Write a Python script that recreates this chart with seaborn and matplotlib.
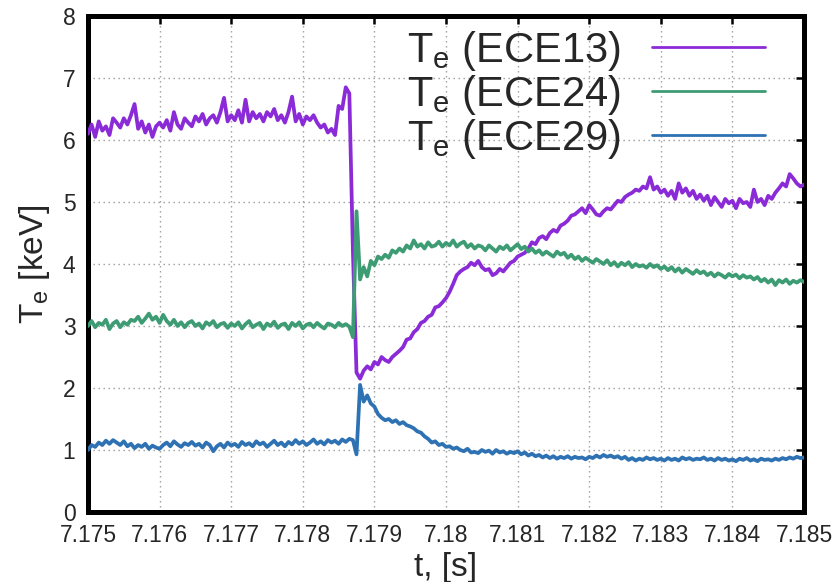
import numpy as np
import pandas as pd
import matplotlib
matplotlib.use("Agg")
import matplotlib.pyplot as plt
from matplotlib.lines import Line2D
import seaborn as sns

# ECE electron temperature traces, sampled every 50 us from 7.175 s to 7.185 s
t_start, t_end = 7.175, 7.185

te_ece13 = [
    6.10, 6.25, 6.05, 6.30, 6.15, 6.22, 6.08, 6.35, 6.28, 6.20,
    6.35, 6.25, 6.40, 6.58, 6.18, 6.30, 6.12, 6.25, 6.05, 6.22,
    6.28, 6.20, 6.32, 6.15, 6.45, 6.25, 6.18, 6.35, 6.28, 6.22,
    6.38, 6.30, 6.42, 6.25, 6.35, 6.40, 6.28, 6.45, 6.68, 6.30,
    6.40, 6.32, 6.48, 6.28, 6.65, 6.30, 6.45, 6.35, 6.42, 6.30,
    6.45, 6.38, 6.50, 6.32, 6.40, 6.28, 6.45, 6.70, 6.30, 6.42,
    6.25, 6.38, 6.32, 6.40, 6.28, 6.20, 6.25, 6.12, 6.18, 6.08,
    6.55, 6.50, 6.85, 6.75, 4.20, 2.25, 2.15, 2.28, 2.35, 2.30,
    2.42, 2.38, 2.50, 2.45, 2.42, 2.50, 2.55, 2.60, 2.66, 2.78,
    2.80, 2.90, 2.95, 3.05, 3.08, 3.15, 3.18, 3.30, 3.32, 3.38,
    3.45, 3.55, 3.68, 3.82, 3.88, 3.92, 3.95, 4.02, 3.98, 4.05,
    3.95, 3.90, 3.92, 3.82, 3.85, 3.92, 3.88, 3.95, 4.02, 4.05,
    4.12, 4.15, 4.18, 4.25, 4.35, 4.32, 4.42, 4.45, 4.40, 4.50,
    4.55, 4.52, 4.62, 4.65, 4.70, 4.78, 4.80, 4.85, 4.90, 4.82,
    4.95, 4.88, 4.80, 4.78, 4.85, 4.90, 4.88, 4.95, 5.02, 5.00,
    5.08, 5.12, 5.15, 5.20, 5.18, 5.25, 5.22, 5.40, 5.20, 5.25,
    5.15, 5.20, 5.10, 5.18, 5.05, 5.30, 5.15, 5.22, 5.10, 5.18,
    5.05, 5.12, 5.02, 5.10, 4.95, 5.08, 5.00, 4.92, 5.05, 4.98,
    5.02, 4.90, 5.05, 4.98, 5.00, 4.92, 5.20, 5.00, 5.05, 4.95,
    5.10, 5.05, 5.15, 5.22, 5.30, 5.25, 5.45, 5.38, 5.30, 5.25,
    5.28,
]

te_ece24 = [
    3.00, 3.08, 2.98, 3.05, 3.02, 3.10, 2.95, 3.04, 3.08, 2.98,
    3.06, 3.02, 3.10, 3.08, 3.15, 3.05, 3.12, 3.20, 3.10, 3.15,
    3.05, 3.18, 3.08, 3.02, 3.10, 3.00, 3.06, 2.98, 3.05, 3.08,
    3.00, 3.04, 2.96, 3.06, 3.02, 3.08, 2.98, 3.03, 3.05, 2.97,
    3.04, 3.00, 3.06, 2.96, 3.03, 3.08, 2.98, 3.02, 3.05, 2.95,
    3.04, 3.00, 3.07, 2.97, 3.02, 3.04, 2.95, 3.05, 3.00, 3.06,
    2.96, 3.02, 3.04, 2.98, 3.05, 3.00, 2.96, 3.04, 3.02, 2.98,
    3.05, 3.00, 3.03, 2.99, 2.82, 4.85, 3.75, 3.95, 3.80, 4.05,
    3.98, 4.12, 4.08, 4.15, 4.10, 4.22, 4.18, 4.25, 4.20, 4.30,
    4.25, 4.38, 4.28, 4.32, 4.25, 4.35, 4.28, 4.30, 4.36, 4.28,
    4.34, 4.30, 4.38, 4.28, 4.33, 4.36, 4.27, 4.32, 4.25, 4.30,
    4.28, 4.22, 4.30, 4.25, 4.20, 4.28, 4.24, 4.30, 4.22, 4.27,
    4.32, 4.24, 4.28, 4.20, 4.25, 4.18, 4.22, 4.15, 4.20, 4.16,
    4.12, 4.20, 4.15, 4.18, 4.10, 4.15, 4.08, 4.12, 4.05, 4.10,
    4.06, 4.02, 4.08, 4.04, 4.00, 4.06, 3.98, 4.03, 3.96, 4.02,
    3.98, 4.03, 3.95, 4.00, 3.96, 3.98, 3.94, 4.00, 3.95, 3.98,
    3.92, 3.96, 3.90, 3.95, 3.88, 3.93, 3.86, 3.92, 3.88, 3.84,
    3.90, 3.85, 3.88, 3.82, 3.86, 3.80, 3.85, 3.82, 3.78, 3.84,
    3.80, 3.83, 3.77, 3.82, 3.78, 3.80, 3.75, 3.79, 3.72, 3.76,
    3.70, 3.75, 3.66, 3.74, 3.70, 3.75, 3.68, 3.73, 3.70, 3.74,
    3.71,
]

te_ece29 = [
    1.00, 1.08, 1.05, 1.12, 1.08, 1.15, 1.10, 1.16, 1.12, 1.08,
    1.14, 1.06, 1.10, 1.03, 1.08, 1.05, 1.10, 1.02, 1.07, 1.04,
    1.02, 1.08, 1.12, 1.06, 1.14, 1.09, 1.05, 1.11, 1.08, 1.13,
    1.07, 1.10, 1.04, 1.12, 1.08, 0.98, 1.06, 1.10, 1.04, 1.12,
    1.07, 1.10, 1.05, 1.13, 1.08, 1.11, 1.06, 1.14, 1.09, 1.12,
    1.05, 1.10, 1.15, 1.08, 1.12, 1.06, 1.13, 1.09, 1.16, 1.10,
    1.14, 1.08, 1.12, 1.17, 1.10, 1.14, 1.09, 1.16, 1.12, 1.15,
    1.10, 1.17, 1.13, 1.18, 1.16, 0.93, 2.05, 1.78, 1.88, 1.75,
    1.70, 1.58, 1.52, 1.48, 1.50, 1.45, 1.48, 1.42, 1.45, 1.40,
    1.38, 1.35, 1.30, 1.28, 1.22, 1.18, 1.12, 1.14, 1.08, 1.10,
    1.05, 1.06, 1.02, 1.04, 1.00, 0.98, 1.02, 0.96, 0.97, 0.95,
    1.00, 0.97, 0.99, 0.94, 1.00, 0.96, 0.98, 0.94, 0.97, 0.95,
    0.98, 0.93, 0.96, 0.91, 0.94, 0.90, 0.92, 0.88, 0.91, 0.87,
    0.90, 0.86, 0.89, 0.87, 0.90, 0.86, 0.89, 0.87, 0.88, 0.85,
    0.89, 0.87, 0.91, 0.88, 0.92, 0.89, 0.91, 0.88, 0.90, 0.86,
    0.89, 0.84, 0.87, 0.83, 0.86, 0.84, 0.88, 0.85, 0.87, 0.84,
    0.86, 0.83, 0.87, 0.84, 0.86, 0.83, 0.88, 0.85, 0.87, 0.84,
    0.86, 0.85, 0.88, 0.84, 0.86, 0.83, 0.87, 0.84, 0.86, 0.83,
    0.85, 0.82, 0.86, 0.84, 0.87, 0.83, 0.85, 0.82, 0.86, 0.84,
    0.85, 0.83, 0.86, 0.84, 0.87, 0.85, 0.88, 0.86, 0.89, 0.87,
    0.88,
]

series_labels = ["ECE13", "ECE24", "ECE29"]
series_colors = ["#8B2BD8", "#3D9C74", "#2E72B3"]
x_ticks = [7.175, 7.176, 7.177, 7.178, 7.179, 7.180, 7.181, 7.182, 7.183, 7.184, 7.185]
x_tick_labels = ["7.175", "7.176", "7.177", "7.178", "7.179", "7.18",
                 "7.181", "7.182", "7.183", "7.184", "7.185"]
y_ticks = [0, 1, 2, 3, 4, 5, 6, 7, 8]

time = np.linspace(t_start, t_end, len(te_ece13))
frames = []
for name, vals in zip(series_labels, [te_ece13, te_ece24, te_ece29]):
    frames.append(pd.DataFrame({"t": time, "Te": vals, "channel": name}))
df = pd.concat(frames, ignore_index=True)

sns.set_theme(style="white")
plt.rcParams["font.family"] = ["Liberation Sans", "DejaVu Sans"]
plt.rcParams["mathtext.fontset"] = "custom"
plt.rcParams["mathtext.rm"] = "Liberation Sans"
plt.rcParams["mathtext.it"] = "Liberation Sans:italic"

fig = plt.figure(figsize=(8.37, 5.82), dpi=100)
ax = fig.add_axes([88 / 837, 70 / 582, 716 / 837, 496 / 582])

sns.lineplot(data=df, x="t", y="Te", hue="channel", hue_order=series_labels,
             palette=series_colors, estimator=None, sort=False,
             linewidth=2.7, ax=ax, legend=False, zorder=3)

ax.set_xlim(t_start, t_end)
ax.set_ylim(0, 8)
ax.set_xticks(x_ticks)
ax.set_xticklabels(x_tick_labels)
ax.set_yticks(y_ticks)
ax.grid(True, color="#9a9a9a", linestyle=(0, (1, 2.6)), linewidth=1.0, zorder=0)

for sp in ax.spines.values():
    sp.set_visible(True)
    sp.set_color("black")
    sp.set_linewidth(3.6)
ax.tick_params(axis="both", which="major", direction="in", length=6, width=1.8,
               color="black", labelsize=16.5, top=True, right=True,
               labeltop=False, labelright=False)
ax.tick_params(axis="x", pad=9)
ax.tick_params(axis="y", pad=9)

ax.set_xlabel("t, [s]", fontsize=24, labelpad=3)
ax.set_ylabel(r"T$_{\mathregular{e}}$ [keV]", fontsize=24, labelpad=8)

# thin key samples, as in the curve key of the original plotting style
handles = [Line2D([], [], color=c, linewidth=2.0) for c in series_colors]
labels = [r"T$_{\mathregular{e}}$ (" + s + ")" for s in series_labels]
ax.legend(handles, labels, loc="upper right", bbox_to_anchor=(0.9455, 0.974),
          frameon=False, fontsize=30, markerfirst=False, handlelength=2.7,
          handletextpad=0.75, labelspacing=0.0, borderpad=0.0, borderaxespad=0.0)

fig.savefig("out.png", dpi=100)
